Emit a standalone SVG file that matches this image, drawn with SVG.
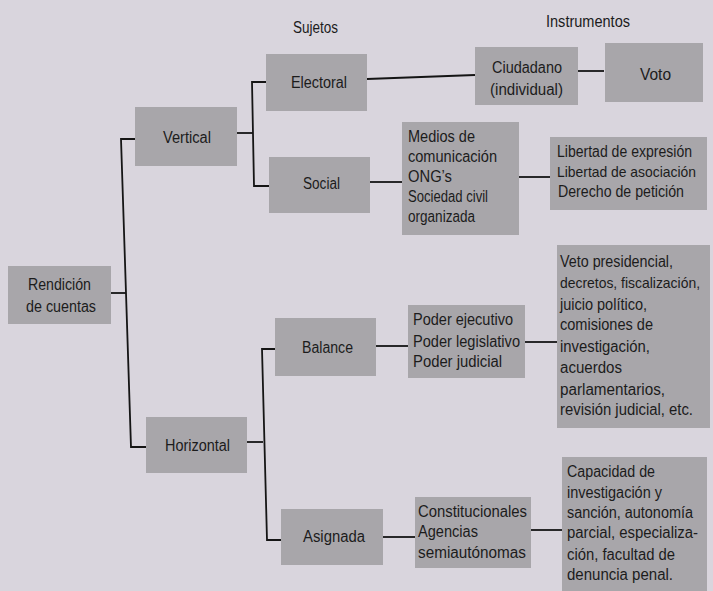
<svg xmlns="http://www.w3.org/2000/svg" width="713" height="591" viewBox="0 0 713 591">
<style>
.bg{fill:#d9d5dd}
.box{fill:#a8a6aa}
.t{font-family:"Liberation Sans",Arial,sans-serif;font-size:16px;fill:#1c1c1c}
.n{font-size:14.5px}
.c{stroke:#151515;stroke-width:1.8;fill:none}
</style>
<rect class="bg" x="0" y="0" width="713" height="591"/>
<g id="headers">
<text class="t" x="293" y="33" textLength="45" lengthAdjust="spacingAndGlyphs">Sujetos</text>
<text class="t" x="546" y="27" textLength="84" lengthAdjust="spacingAndGlyphs">Instrumentos</text>
</g>
<g id="connectors">
<line class="c" x1="111" y1="293" x2="126" y2="293"/>
<polyline class="c" points="135,139 121,139 131,447 146,447"/>
<line class="c" x1="237" y1="133" x2="253" y2="133"/>
<polyline class="c" points="266,82 252,82 254,186 269,186"/>
<line class="c" x1="367" y1="79" x2="475" y2="75"/>
<line class="c" x1="578" y1="71" x2="604" y2="71"/>
<line class="c" x1="370" y1="182" x2="402" y2="182"/>
<line class="c" x1="519" y1="177" x2="550" y2="177"/>
<line class="c" x1="247" y1="442" x2="263" y2="442"/>
<polyline class="c" points="275,349 262,349 267,540 281,540"/>
<line class="c" x1="376" y1="346" x2="408" y2="346"/>
<line class="c" x1="525" y1="342" x2="557" y2="342"/>
<line class="c" x1="383" y1="537" x2="415" y2="537"/>
<line class="c" x1="531" y1="530" x2="562" y2="530"/>
</g>
<g id="rendicion">
<rect class="box" x="8" y="266" width="103" height="58"/>
<text class="t" x="28" y="290" textLength="63" lengthAdjust="spacingAndGlyphs">Rendición</text>
<text class="t" x="26" y="312" textLength="70" lengthAdjust="spacingAndGlyphs">de cuentas</text>
</g>
<g id="vertical">
<rect class="box" x="135" y="107" width="102" height="59"/>
<text class="t" x="163" y="143" textLength="48" lengthAdjust="spacingAndGlyphs">Vertical</text>
</g>
<g id="horizontal">
<rect class="box" x="146" y="417" width="101" height="56"/>
<text class="t" x="165" y="451" textLength="65" lengthAdjust="spacingAndGlyphs">Horizontal</text>
</g>
<g id="electoral">
<rect class="box" x="266" y="54" width="101" height="57"/>
<text class="t" x="291" y="88" textLength="56" lengthAdjust="spacingAndGlyphs">Electoral</text>
</g>
<g id="social">
<rect class="box" x="269" y="157" width="101" height="56"/>
<text class="t" x="303" y="189" textLength="37" lengthAdjust="spacingAndGlyphs">Social</text>
</g>
<g id="balance">
<rect class="box" x="275" y="318" width="101" height="58"/>
<text class="t" x="302" y="353" textLength="51" lengthAdjust="spacingAndGlyphs">Balance</text>
</g>
<g id="asignada">
<rect class="box" x="281" y="509" width="102" height="56"/>
<text class="t" x="303" y="542" textLength="62" lengthAdjust="spacingAndGlyphs">Asignada</text>
</g>
<g id="ciudadano">
<rect class="box" x="475" y="47" width="103" height="58"/>
<text class="t" x="492" y="73" textLength="70" lengthAdjust="spacingAndGlyphs">Ciudadano</text>
<text class="t" x="490" y="95" textLength="73" lengthAdjust="spacingAndGlyphs">(individual)</text>
</g>
<g id="voto">
<rect class="box" x="605" y="43" width="98" height="59"/>
<text class="t" x="640" y="80" textLength="31" lengthAdjust="spacingAndGlyphs">Voto</text>
</g>
<g id="medios">
<rect class="box" x="402" y="122" width="117" height="113"/>
<text class="t" x="408" y="142" textLength="67" lengthAdjust="spacingAndGlyphs">Medios de</text>
<text class="t" x="408" y="162" textLength="89" lengthAdjust="spacingAndGlyphs">comunicación</text>
<text class="t" x="408" y="182" textLength="44" lengthAdjust="spacingAndGlyphs">ONG’s</text>
<text class="t" x="408" y="202" textLength="80" lengthAdjust="spacingAndGlyphs">Sociedad civil</text>
<text class="t" x="408" y="222" textLength="67" lengthAdjust="spacingAndGlyphs">organizada</text>
</g>
<g id="libertad">
<rect class="box" x="550" y="137" width="157" height="73"/>
<text class="t" x="557" y="157" textLength="135" lengthAdjust="spacingAndGlyphs">Libertad de expresión</text>
<text class="t n" x="557" y="177" textLength="139" lengthAdjust="spacingAndGlyphs">Libertad de asociación</text>
<text class="t" x="558" y="197" textLength="126" lengthAdjust="spacingAndGlyphs">Derecho de petición</text>
</g>
<g id="poderes">
<rect class="box" x="408" y="305" width="117" height="73"/>
<text class="t" x="413" y="325" textLength="100" lengthAdjust="spacingAndGlyphs">Poder ejecutivo</text>
<text class="t" x="413" y="347" textLength="107" lengthAdjust="spacingAndGlyphs">Poder legislativo</text>
<text class="t" x="413" y="367" textLength="89" lengthAdjust="spacingAndGlyphs">Poder judicial</text>
</g>
<g id="veto">
<rect class="box" x="557" y="245" width="153" height="183"/>
<text class="t" x="560" y="267" textLength="113" lengthAdjust="spacingAndGlyphs">Veto presidencial,</text>
<text class="t n" x="560" y="288" textLength="140" lengthAdjust="spacingAndGlyphs">decretos, fiscalización,</text>
<text class="t" x="560" y="310" textLength="87" lengthAdjust="spacingAndGlyphs">juicio político,</text>
<text class="t" x="560" y="330" textLength="93" lengthAdjust="spacingAndGlyphs">comisiones de</text>
<text class="t" x="560" y="352" textLength="90" lengthAdjust="spacingAndGlyphs">investigación,</text>
<text class="t" x="560" y="373" textLength="62" lengthAdjust="spacingAndGlyphs">acuerdos</text>
<text class="t" x="560" y="395" textLength="105" lengthAdjust="spacingAndGlyphs">parlamentarios,</text>
<text class="t" x="560" y="415" textLength="133" lengthAdjust="spacingAndGlyphs">revisión judicial, etc.</text>
</g>
<g id="constitucionales">
<rect class="box" x="415" y="497" width="116" height="71"/>
<text class="t" x="418" y="517" textLength="109" lengthAdjust="spacingAndGlyphs">Constitucionales</text>
<text class="t" x="418" y="537" textLength="60" lengthAdjust="spacingAndGlyphs">Agencias</text>
<text class="t" x="418" y="558" textLength="108" lengthAdjust="spacingAndGlyphs">semiautónomas</text>
</g>
<g id="capacidad">
<rect class="box" x="562" y="457" width="145" height="134"/>
<text class="t" x="567" y="477" textLength="88" lengthAdjust="spacingAndGlyphs">Capacidad de</text>
<text class="t" x="567" y="498" textLength="95" lengthAdjust="spacingAndGlyphs">investigación y</text>
<text class="t" x="567" y="518" textLength="126" lengthAdjust="spacingAndGlyphs">sanción, autonomía</text>
<text class="t" x="567" y="538" textLength="131" lengthAdjust="spacingAndGlyphs">parcial, especializa-</text>
<text class="t" x="567" y="560" textLength="108" lengthAdjust="spacingAndGlyphs">ción, facultad de</text>
<text class="t" x="567" y="580" textLength="106" lengthAdjust="spacingAndGlyphs">denuncia penal.</text>
</g>
</svg>
